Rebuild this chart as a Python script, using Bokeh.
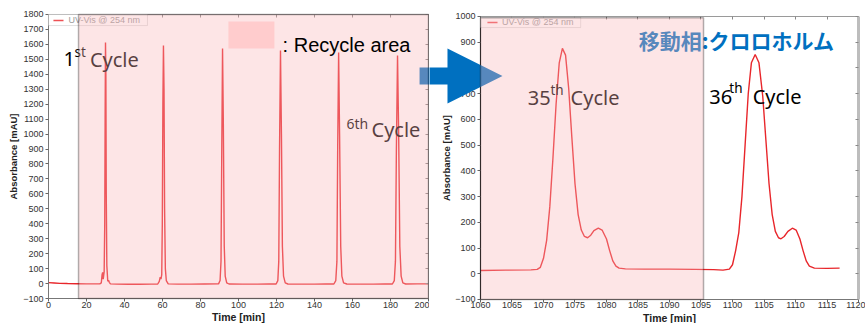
from bokeh.plotting import figure
from bokeh.layouts import row
from bokeh.models import (Range1d, FixedTicker, BoxAnnotation, LinearAxis,
                          PolyAnnotation, Label)
from bokeh.embed import file_html
from bokeh.resources import INLINE

# ---------------- data ----------------
# Cycles 1-6 (0-200 min)
cycles_time = [0, 3, 6, 10, 15, 20, 25, 27,
               27.8, 28.2, 28.5, 28.8, 29.3, 29.6, 29.8, 30.0, 30.2, 30.4, 30.7, 31.2, 31.6, 32.0, 32.6,
               36, 42, 48, 54, 57.5,
               58.3, 58.8, 59.2, 59.6, 59.9, 60.2, 60.5, 60.8, 61.1, 61.5, 62.0, 63.0,
               68, 75, 82, 89.5,
               90.3, 90.8, 91.2, 91.6, 92.0, 92.5, 93.0, 93.8, 95,
               102, 110, 116, 119.8,
               120.7, 121.2, 121.6, 122.1, 122.6, 123.1, 123.7, 124.6, 126,
               133, 140, 146, 150.2,
               151.2, 151.8, 152.2, 152.7, 153.2, 153.8, 154.4, 155.3, 157,
               164, 171, 177, 181.0,
               182.0, 182.6, 183.1, 183.7, 184.3, 184.9, 185.6, 186.5, 188,
               194, 200]
cycles_abs = [6, 4, 1, 0, -1, -2, -2, -2,
              5, 60, 75, 30, 80, 400, 1100, 1613, 1400, 600, 120, 15, 22, 8, -2,
              -4, -5, -5, -4, -3,
              15, 42, 30, 60, 400, 1200, 1593, 1300, 500, 100, 20, -2,
              -4, -4, -3, -2,
              20, 150, 900, 1573, 1100, 250, 50, 5, -3,
              -4, -4, -3, -3,
              20, 150, 900, 1559, 1000, 250, 50, 5, -3,
              -4, -4, -3, -3,
              20, 150, 900, 1546, 1000, 250, 50, 5, -3,
              -4, -4, -3, -3,
              20, 150, 900, 1526, 1000, 250, 50, 5, -3,
              -2, -2]

# Cycles 35-36 (1060-1117 min)
late_time = [1060, 1064, 1068, 1069, 1069.5, 1070, 1070.5, 1071, 1071.5, 1072,
             1072.5, 1073, 1073.5, 1074, 1074.5, 1075, 1075.5, 1076, 1076.5, 1077,
             1077.5, 1078, 1078.7, 1079.3, 1080, 1080.5, 1081, 1081.5, 1082, 1083,
             1086, 1090, 1094, 1097, 1098.5, 1099.5, 1100, 1100.5, 1101, 1101.5,
             1102, 1102.5, 1103, 1103.6, 1104.2, 1104.8, 1105.3, 1105.8, 1106.3, 1106.8,
             1107.3, 1107.7, 1108.2, 1108.8, 1109.5, 1110.1, 1110.7, 1111.2, 1111.7, 1112.2,
             1113, 1115, 1117]
late_abs = [13, 14, 15, 17, 25, 60, 130, 260, 450, 660,
            820, 876, 850, 720, 530, 350, 230, 170, 145, 140,
            150, 168, 177, 170, 135, 90, 50, 30, 22, 19,
            18, 18, 17, 16, 14, 18, 35, 90, 160, 300,
            500, 700, 820, 852, 820, 690, 520, 350, 230, 165,
            140, 136, 145, 165, 177, 170, 135, 90, 50, 30,
            22, 21, 22]

left_x_ticks = [0, 20, 40, 60, 80, 100, 120, 140, 160, 180, 200]
left_y_ticks = [-100, 0, 100, 200, 300, 400, 500, 600, 700, 800, 900,
                1000, 1100, 1200, 1300, 1400, 1500, 1600, 1700, 1800]
right_x_ticks = [1060, 1065, 1070, 1075, 1080, 1085, 1090, 1095, 1100,
                 1105, 1110, 1115, 1120]
right_y_ticks = [-100, 0, 100, 200, 300, 400, 500, 600, 700, 800, 900, 1000]

left_x_span = (0, 200)
left_y_span = (-100, 1800)
right_x_span = (1060, 1120)
right_y_span = (-100, 1000)
recycle_left = (15.8, 200)
recycle_right = (1060, 1095.4)
trace_label = "UV-Vis @ 254 nm"

RED = "#E8262B"
BLUE = "#0070C0"
PINK_FILL = "#FAB4B8"
PINK_ALPHA = 0.35
TICK_FONT = "Liberation Sans"
TEXT_FONT = "Noto Sans"
H = 323


def mirror_axis(p, side, ticks, span, loc, line_color, line_width):
    ax = LinearAxis(ticker=FixedTicker(ticks=ticks), bounds=span, fixed_location=loc,
                    major_label_overrides={t: "" for t in ticks},
                    major_label_text_font_size="1px", major_label_standoff=0,
                    major_tick_in=3, major_tick_out=0, minor_tick_line_color=None,
                    major_tick_line_color="#888888",
                    axis_line_color=line_color, axis_line_width=line_width)
    p.add_layout(ax, side)


def make_fig(width, xr, yr, xspan, yspan, xticks, yticks, ylab_standoff, right_color, right_width):
    # the frame fills the whole canvas; axes are pinned to the plot's edges
    p = figure(width=width, height=H, x_range=Range1d(*xr), y_range=Range1d(*yr),
               output_backend="svg", toolbar_location=None,
               min_border_left=0, min_border_top=0, min_border_right=0, min_border_bottom=0,
               background_fill_color="white", border_fill_color="white",
               outline_line_color=None)
    p.grid.visible = False
    for ax, ticks in ((p.xaxis[0], xticks), (p.yaxis[0], yticks)):
        ax.ticker = FixedTicker(ticks=ticks)
        ax.minor_tick_line_color = None
        ax.major_tick_in = 0
        ax.major_tick_out = 3
        ax.major_tick_line_color = "#666666"
        ax.axis_line_color = "#777777"
        ax.major_label_text_font = TICK_FONT
        ax.major_label_text_font_size = "9px"
        ax.major_label_text_color = "#333333"
        ax.axis_label_text_font = TICK_FONT
        ax.axis_label_text_font_style = "bold"
        ax.axis_label_text_color = "#222222"
    xa, ya = p.xaxis[0], p.yaxis[0]
    xa.bounds = xspan
    ya.bounds = yspan
    xa.fixed_location = yspan[0]
    ya.fixed_location = xspan[0]
    xa.axis_label = "Time [min]"
    xa.axis_label_text_font_size = "10.5px"
    xa.major_label_standoff = 0
    xa.axis_label_standoff = 0
    ya.axis_label = "Absorbance [mAU]"
    ya.axis_label_text_font_size = "9.5px"
    ya.major_label_standoff = 2
    ya.axis_label_standoff = ylab_standoff
    mirror_axis(p, "above", xticks, xspan, yspan[1], "#9a9a9a", 1)
    mirror_axis(p, "right", yticks, yspan, xspan[1], right_color, right_width)
    return p


def txt(p, x, y, s, size, color="black", font=TEXT_FONT, style="normal", baseline="alphabetic"):
    p.add_layout(Label(x=x, y=y, text=s, text_font=font, text_font_size=size,
                       text_color=color, text_font_style=style,
                       text_baseline=baseline, text_align="left"))


def legend_box(p, x0, x1, y0, y1, lx0, lx1, ly, dy, tx):
    p.add_layout(BoxAnnotation(left=x0, right=x1, bottom=y0, top=y1,
                               fill_color="white", fill_alpha=1,
                               line_color="#9a9a9a", line_width=1))
    p.add_layout(BoxAnnotation(left=lx0, right=lx1, bottom=ly - dy, top=ly + dy,
                               fill_color=RED, fill_alpha=0.8, line_color=None))
    txt(p, tx, ly, trace_label, "9px", color="#9a9a9a", font=TICK_FONT, baseline="middle")


# ---------------- left chart ----------------
pl = make_fig(429, (-25.263, 200.526), (-267.25, 1893.66), left_x_span, left_y_span,
              left_x_ticks, left_y_ticks, 1, "#9a9a9a", 1)
rl = pl.line(cycles_time, cycles_abs, line_color=RED, line_width=1.4)
legend_box(pl, 0, 52.1, 1726, 1800, 2.6, 7.9, 1760, 5, 10.5)
txt(pl, 7.9, 1499, "1", "20px")
txt(pl, 13.7, 1546, "st", "13.5px")
txt(pl, 21.8, 1499, "Cycle", "20px")
txt(pl, 156.8, 1071, "6th", "14px")
txt(pl, 170.0, 1031, "Cycle", "20px")
pl.add_layout(PolyAnnotation(xs=[195.3, 206, 206, 195.3], ys=[1445, 1445, 1332, 1332],
                             fill_color=BLUE, fill_alpha=1, line_color=None))
pl.add_layout(BoxAnnotation(left=recycle_left[0], right=recycle_left[1], bottom=-100, top=1800,
                            fill_color=PINK_FILL, fill_alpha=PINK_ALPHA,
                            line_color="black", line_width=1.5))
pl.add_layout(BoxAnnotation(left=94.7, right=118.9, bottom=1573, top=1753,
                            fill_color="#FFCCCD", fill_alpha=1, line_color=None))
txt(pl, 123.2, 1599, ": Recycle area", "20px", font="Liberation Sans")

# ---------------- right chart ----------------
pr = make_fig(436, (1051.905, 1121.111), (-193.29, 1062.19), right_x_span, right_y_span,
              right_x_ticks, right_y_ticks, 0, "#bdbdbd", 3)
pr.yaxis[0].axis_line_color = "#222222"
rr = pr.line(late_time, late_abs, line_color=RED, line_width=1.4)
legend_box(pr, 1060, 1075.9, 957, 997, 1061.1, 1062.7, 977, 3, 1063.4)
txt(pr, 1067.5, 685, "35", "20px")
txt(pr, 1071.1, 716, "th", "13.5px")
txt(pr, 1074.3, 685, "Cycle", "20px")
txt(pr, 1096.3, 689, "36", "20px")
txt(pr, 1099.5, 724, "th", "13.5px")
txt(pr, 1103.2, 689, "Cycle", "20px")
txt(pr, 1085.1, 907, "移動相:クロロホルム", "21px", color=BLUE,
    font="Noto Sans CJK JP", style="bold", baseline="middle")
pr.add_layout(PolyAnnotation(xs=[1050, 1054.76, 1054.76, 1063.49, 1054.76, 1054.76, 1050],
                             ys=[802, 802, 876, 769, 662, 736, 736],
                             fill_color=BLUE, fill_alpha=1, line_color=None))
pr.add_layout(BoxAnnotation(left=recycle_right[0], right=recycle_right[1], bottom=-100, top=995,
                            fill_color=PINK_FILL, fill_alpha=PINK_ALPHA,
                            line_color="black", line_width=1.5))

layout = row(pl, pr, spacing=0)
open("out.html", "w").write(file_html(layout, INLINE))
